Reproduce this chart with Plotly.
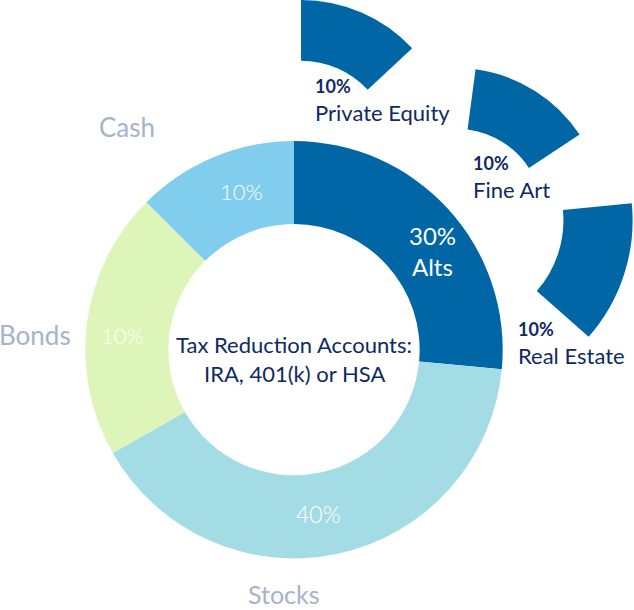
import plotly.graph_objects as go

W, H = 634, 610

# ---- data ----
main_labels = ["Alts", "Stocks", "Bonds", "Cash"]
main_values = [26.5, 40.25, 20.75, 12.5]          # share of the ring as drawn
main_pct = ["30%", "40%", "10%", "10%"]            # printed percentages
main_colors = ["#0066A6", "#A4DCE5", "#DDF5B8", "#80CDEE"]

alt_labels = ["Private Equity", "Fine Art", "Real Estate"]
alt_pct = ["10%", "10%", "10%"]
alt_span_deg = [47, 49, 47]          # angular size of each detached piece
alt_start_deg = [0, 7.6, 84.4]       # where each piece starts (clockwise from 12 o'clock)

center_lines = ["Tax Reduction Accounts:", "IRA, 401(k) or HSA"]

# ---- layout helpers (pixel geometry) ----
def domain(cx, cy, r):
    return dict(x=[(cx - r) / W, (cx + r) / W],
                y=[1 - (cy + r) / H, 1 - (cy - r) / H])

FONT = "Lato"
NAVY = "#0E2A62"
GREY = "#A5B3CB"
DARK = "#0066A6"

fig = go.Figure()

fig.add_trace(go.Pie(
    labels=main_labels, values=main_values, hole=0.602, sort=False,
    direction="clockwise", rotation=0, textinfo="none",
    marker=dict(colors=main_colors, line=dict(width=0)),
    domain=domain(294, 349.7, 208.7), showlegend=False, hoverinfo="label",
))

piece_geom = [(301, 152, 152, 0.6), (456, 216, 148, 0.59), (456.6, 220.4, 176, 0.607)]
for lab, span, start, (cx, cy, r, hole) in zip(alt_labels, alt_span_deg, alt_start_deg, piece_geom):
    fig.add_trace(go.Pie(
        labels=[lab, ""], values=[span, 360 - span], hole=hole, sort=False,
        direction="clockwise", rotation=start, textinfo="none",
        marker=dict(colors=[DARK, "rgba(0,0,0,0)"], line=dict(width=0)),
        domain=domain(cx, cy, r), showlegend=False, hoverinfo="skip",
    ))

def px(x, y):
    return x / W, 1 - y / H

ann = []
def add(text, x, y, size, color, weight=400, xanchor="center", yanchor="middle"):
    ax, ay = px(x, y)
    ann.append(dict(text=text, x=ax, y=ay, xref="paper", yref="paper",
                    showarrow=False, xanchor=xanchor, yanchor=yanchor, borderpad=0,
                    font=dict(family=FONT, size=size, color=color, weight=weight)))

# outside category labels
add(main_labels[3], 127, 127, 26, GREY, 400)
add(main_labels[2], 35, 335, 26, GREY, 400)
add(main_labels[1], 284, 610, 25, GREY, 400, yanchor="bottom")

# in-ring labels
add(main_pct[0], 432, 250.5, 24, "white", 400, yanchor="bottom")
add(main_labels[0], 432, 250.5, 24, "white", 400, yanchor="top")
add(main_pct[1], 318, 514, 23, "white", 300)
add(main_pct[2], 123, 335, 22, "white", 300)
add(main_pct[3], 241, 191, 22, "white", 300)

# center text
add(center_lines[0], 294, 358.5, 22, NAVY, 400, yanchor="bottom")
add(center_lines[1], 294, 358.5, 22, NAVY, 400, yanchor="top")

# detached piece labels
for lab, pct, (x, b) in zip(alt_labels, alt_pct, [(314, 97.8), (472, 175.5), (517, 341.3)]):
    add(pct, x, b, 18, NAVY, 700, "left", "bottom")
    add(lab, x, b, 22, NAVY, 400, "left", "top")

fig.update_layout(
    width=W, height=H, margin=dict(l=0, r=0, t=0, b=0),
    paper_bgcolor="white", plot_bgcolor="white", annotations=ann,
)

fig.write_html("out.html", config={"displayModeBar": False},
               post_script="document.body.style.margin='0px';")
